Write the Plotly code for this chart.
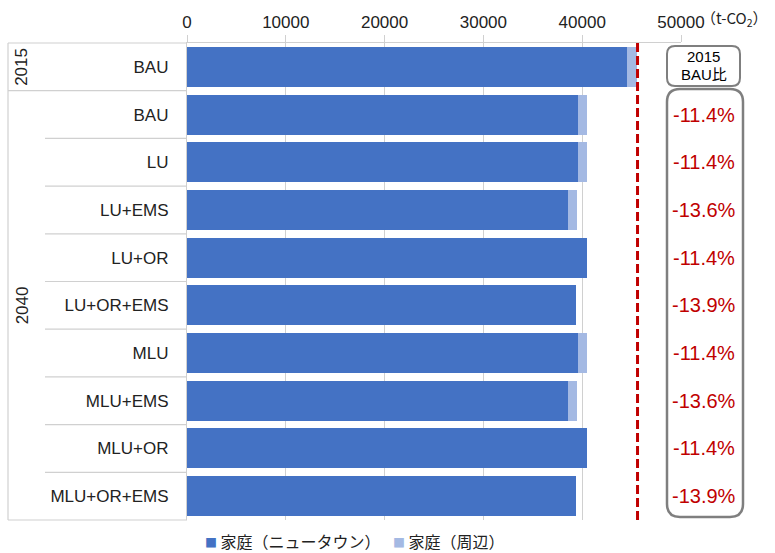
import plotly.graph_objects as go

categories = ["BAU", "BAU", "LU", "LU+EMS", "LU+OR", "LU+OR+EMS", "MLU", "MLU+EMS", "MLU+OR", "MLU+OR+EMS"]
years = ["2015", "2040"]
newtown = [44550, 39600, 39600, 38550, 40450, 39350, 39600, 38550, 40450, 39350]
surround = [1000, 900, 900, 900, 0, 0, 900, 900, 0, 0]
ratio_2015 = ["-11.4%", "-11.4%", "-13.6%", "-11.4%", "-13.9%", "-11.4%", "-13.6%", "-11.4%", "-13.9%"]
baseline_2015 = 45600
x_ticks = [0, 10000, 20000, 30000, 40000, 50000]
series_names = ["家庭（ニュータウン）", "家庭（周辺）"]

W, H = 775, 553
L, R, T, B = 187, 681, 43, 520
PW, PH = R - L, B - T

def px(x):
    return (x - L) / PW

def py(y):
    return (B - y) / PH

FONT = "Arial, 'Liberation Sans', 'Noto Sans CJK JP', sans-serif"
JFONT = "'Noto Sans CJK JP', Arial, sans-serif"
DARK = "#4472C4"
LIGHT = "#A4B9E3"
RED = "#C00000"
GRID = "#D0D0D0"
TXT = "#222222"

ypos = list(range(len(categories)))

fig = go.Figure()
fig.add_trace(go.Bar(y=ypos, x=newtown, orientation="h", name=series_names[0],
                     marker=dict(color=DARK, line=dict(width=0))))
fig.add_trace(go.Bar(y=ypos, x=surround, orientation="h", name=series_names[1],
                     marker=dict(color=LIGHT, line=dict(width=0))))

shapes = []
shapes.append(dict(type="line", xref="x", yref="paper", x0=baseline_2015, x1=baseline_2015,
                   y0=0, y1=1, line=dict(color=RED, width=3, dash="9px,4px"), layer="above"))

row_h = PH / len(categories)
xl_full = px(8)
xl_inner = px(45)
shapes.append(dict(type="line", xref="paper", yref="paper", x0=xl_full, x1=0, y0=1, y1=1,
                   line=dict(color=GRID, width=1.2)))
shapes.append(dict(type="line", xref="paper", yref="paper", x0=xl_full, x1=xl_full, y0=0, y1=1,
                   line=dict(color=GRID, width=1.2)))
shapes.append(dict(type="line", xref="paper", yref="paper", x0=xl_full, x1=0, y0=0, y1=0,
                   line=dict(color=GRID, width=1.2)))
for i in range(1, len(categories)):
    yy = 1 - i / len(categories)
    x0 = xl_full if i == 1 else xl_inner
    shapes.append(dict(type="line", xref="paper", yref="paper", x0=x0, x1=0, y0=yy, y1=yy,
                       line=dict(color=GRID, width=1.2)))

def rounded(x0, y0, x1, y1, r):
    a0, a1 = px(x0), px(x1)
    b0, b1 = py(y0), py(y1)
    rx, ry = r / PW, r / PH
    return (f"M {a0+rx},{b0} L {a1-rx},{b0} Q {a1},{b0} {a1},{b0-ry} "
            f"L {a1},{b1+ry} Q {a1},{b1} {a1-rx},{b1} "
            f"L {a0+rx},{b1} Q {a0},{b1} {a0},{b1+ry} "
            f"L {a0},{b0-ry} Q {a0},{b0} {a0+rx},{b0} Z")

shapes.append(dict(type="path", xref="paper", yref="paper", path=rounded(667, 46, 740, 86, 8),
                   line=dict(color="#7F7F7F", width=2), fillcolor="white", layer="above"))
shapes.append(dict(type="path", xref="paper", yref="paper", path=rounded(667, 89, 743, 517, 13),
                   line=dict(color="#7F7F7F", width=2.5), fillcolor="white", layer="above"))

annotations = []
annotations.append(dict(xref="paper", yref="paper", x=px(703.5), y=py(57), text="2015",
                        showarrow=False, font=dict(family=FONT, size=15, color="#000000"),
                        xanchor="center", yanchor="middle"))
annotations.append(dict(xref="paper", yref="paper", x=px(703.5), y=py(75), text="BAU比",
                        showarrow=False, font=dict(family=FONT, size=15, color="#000000"),
                        xanchor="center", yanchor="middle"))
for i, t in enumerate(ratio_2015):
    cy = T + row_h * (i + 1.5)
    annotations.append(dict(xref="paper", yref="paper", x=px(704), y=py(cy), text=t,
                            showarrow=False, font=dict(family=FONT, size=20, color=RED),
                            xanchor="center", yanchor="middle"))
annotations.append(dict(xref="paper", yref="paper", x=px(699), y=py(18), text="（t-CO<sub>2</sub>）",
                        showarrow=False, font=dict(family=JFONT, size=15, color=TXT),
                        xanchor="left", yanchor="middle"))
annotations.append(dict(xref="paper", yref="paper", x=px(22), y=py(T + row_h * 0.5), text=years[0],
                        showarrow=False, textangle=-90, font=dict(family=FONT, size=17, color=TXT),
                        xanchor="center", yanchor="middle"))
annotations.append(dict(xref="paper", yref="paper", x=px(22), y=py(T + row_h * 5.5), text=years[1],
                        showarrow=False, textangle=-90, font=dict(family=FONT, size=17, color=TXT),
                        xanchor="center", yanchor="middle"))
annotations.append(dict(xref="paper", yref="paper", x=px(203), y=py(541),
                        text=f"<span style='color:{DARK};font-size:12px'>■</span> {series_names[0]}",
                        showarrow=False, font=dict(family=JFONT, size=16, color=TXT),
                        xanchor="left", yanchor="middle"))
annotations.append(dict(xref="paper", yref="paper", x=px(391), y=py(541),
                        text=f"<span style='color:{LIGHT};font-size:12px'>■</span> {series_names[1]}",
                        showarrow=False, font=dict(family=JFONT, size=16, color=TXT),
                        xanchor="left", yanchor="middle"))

fig.update_layout(
    width=W, height=H,
    margin=dict(l=L, r=W - R, t=T, b=H - B),
    barmode="stack", bargap=0.16,
    plot_bgcolor="white", paper_bgcolor="white",
    font=dict(family=FONT, size=17, color=TXT),
    xaxis=dict(side="top", range=[0, 50000], tickvals=x_ticks, ticktext=[str(v) for v in x_ticks],
               showgrid=True, gridcolor=GRID, gridwidth=1,
               showline=True, linecolor=GRID, linewidth=1.2,
               ticks="outside", ticklen=7, tickcolor=GRID,
               tickfont=dict(family=FONT, size=17, color=TXT), zeroline=False, fixedrange=True),
    yaxis=dict(range=[len(categories) - 0.5, -0.5], tickvals=ypos, ticktext=categories,
               showgrid=False, showline=True, linecolor=GRID, linewidth=1.2, ticks="",
               ticklabelstandoff=14, tickfont=dict(family=FONT, size=17, color=TXT),
               zeroline=False),
    shapes=shapes,
    annotations=annotations,
    showlegend=False,
)

fig.write_html("out.html")
